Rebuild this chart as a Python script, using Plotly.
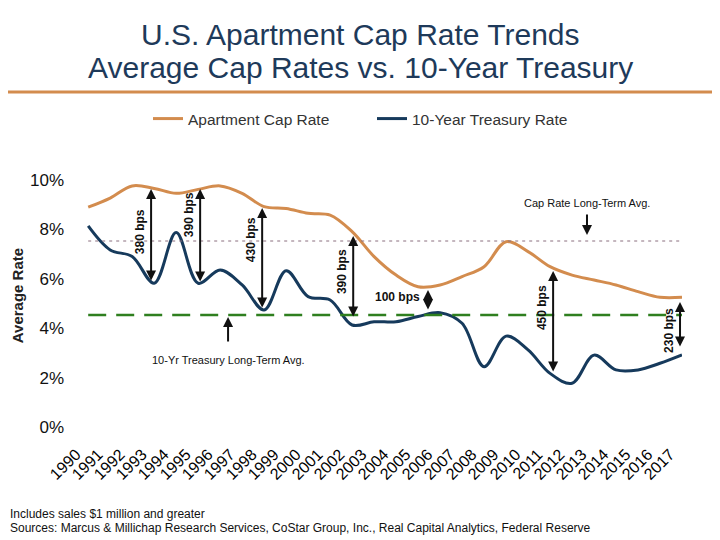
import plotly.graph_objects as go

years = list(range(1990, 2018))
cap_rate = [8.90, 9.27, 9.76, 9.66, 9.46, 9.62, 9.76, 9.46, 8.92, 8.85,
            8.65, 8.58, 7.91, 6.90, 6.15, 5.68, 5.75, 6.09, 6.49, 7.50,
            7.10, 6.49, 6.15, 5.95, 5.75, 5.48, 5.25, 5.25]
treasury = [8.14, 7.17, 6.90, 5.82, 7.87, 5.82, 6.36, 5.75, 4.74, 6.33,
            5.28, 5.14, 4.13, 4.26, 4.26, 4.47, 4.63, 4.20, 2.44, 3.68,
            3.12, 2.17, 1.77, 2.91, 2.31, 2.31, 2.58, 2.92]
cap_avg = 7.53
treasury_avg = 4.53

gap_x = [1992.86, 1995.09, 1997.91, 2002.05, 2005.45, 2011.14, 2016.91]
gap_top = [9.64, 9.64, 8.87, 7.73, 5.55, 6.32, 5.06]
gap_bottom = [5.87, 5.83, 4.78, 4.41, 4.70, 2.19, 3.20]
gap_labels = ["380 bps", "390 bps", "430 bps", "390 bps", "100 bps", "450 bps", "230 bps"]
gap_label_y = [7.89, 8.58, 7.57, 6.28, 5.26, 4.82, 3.89]

y_ticks = [0, 2, 4, 6, 8, 10]
y_ticktext = ["0%", "2%", "4%", "6%", "8%", "10%"]

ORANGE = "#D38C4E"
NAVY = "#163A5C"
GREEN = "#2F7F1F"
FONT = "Arial, Liberation Sans, sans-serif"

# The page body has an 8px margin, so the figure is drawn 8px in from the top-left.
OFF = 8
FIG_W, FIG_H = 720 - OFF, 540 - OFF
X0 = 1989.4          # axis starts a little before 1990 so the shifted 1990 label fits
YEAR_PX = 22.0       # 1990 sits at page x 88, 2017 at page x 682
PLOT_LEFT = 88 - (1990 - X0) * YEAR_PX
PLOT_RIGHT, PLOT_TOP, PLOT_BOTTOM = 682, 180, 427
L, R, T, B = PLOT_LEFT - OFF, 720 - PLOT_RIGHT, PLOT_TOP - OFF, 540 - PLOT_BOTTOM
PW, PH = PLOT_RIGHT - PLOT_LEFT, PLOT_BOTTOM - PLOT_TOP


def px(xp):
    return (xp - PLOT_LEFT) / PW


def py(yp):
    return (PLOT_BOTTOM - yp) / PH


fig = go.Figure()
fig.add_trace(go.Scatter(x=years, y=cap_rate, mode="lines", name="Apartment Cap Rate",
                         line=dict(color=ORANGE, width=3, shape="spline", smoothing=1.0)))
fig.add_trace(go.Scatter(x=years, y=treasury, mode="lines", name="10-Year Treasury Rate",
                         line=dict(color=NAVY, width=3, shape="spline", smoothing=1.0)))
fig.add_trace(go.Scatter(x=[years[0], years[-1]], y=[cap_avg, cap_avg], mode="lines",
                         showlegend=False, line=dict(color="#8A6E7E", width=1, dash="3px,4px")))
fig.add_trace(go.Scatter(x=[years[0], years[-1]], y=[treasury_avg, treasury_avg], mode="lines",
                         showlegend=False, line=dict(color=GREEN, width=2.5, dash="18px,10px")))

annotations = []
for gx, gt, gb, gl, gy in zip(gap_x, gap_top, gap_bottom, gap_labels, gap_label_y):
    annotations.append(dict(x=gx, y=gt, ax=gx, ay=gb, xref="x", yref="y", axref="x", ayref="y",
                            text="", showarrow=True, arrowhead=2, arrowside="end+start",
                            arrowsize=1, arrowwidth=2, arrowcolor="#111111"))
    if gl == "100 bps":
        annotations.append(dict(x=gx, y=gy, xref="x", yref="y", text="<b>" + gl + "</b>",
                                showarrow=False, xanchor="right", yanchor="middle", xshift=-6,
                                font=dict(family=FONT, size=12, color="#111111")))
    else:
        annotations.append(dict(x=gx, y=gy, xref="x", yref="y", text="<b>" + gl + "</b>",
                                showarrow=False, textangle=-90, xshift=-11,
                                xanchor="center", yanchor="middle",
                                font=dict(family=FONT, size=12, color="#111111")))

# long-term average labels with arrows
annotations.append(dict(x=2012.68, y=9.07, xref="x", yref="y", text="Cap Rate Long-Term Avg.",
                        showarrow=False, xanchor="center", yanchor="middle",
                        font=dict(family=FONT, size=11, color="#111111")))
annotations.append(dict(x=2012.68, y=7.77, ax=2012.68, ay=8.66, xref="x", yref="y", axref="x",
                        ayref="y", text="", showarrow=True, arrowhead=2, arrowsize=1,
                        arrowwidth=2, arrowcolor="#111111"))
annotations.append(dict(x=1996.36, y=2.71, xref="x", yref="y", text="10-Yr Treasury Long-Term Avg.",
                        showarrow=False, xanchor="center", yanchor="middle",
                        font=dict(family=FONT, size=11, color="#111111")))
annotations.append(dict(x=1996.36, y=4.45, ax=1996.36, ay=3.40, xref="x", yref="y", axref="x",
                        ayref="y", text="", showarrow=True, arrowhead=2, arrowsize=1,
                        arrowwidth=2, arrowcolor="#111111"))

# titles and notes (page pixel positions)
annotations.append(dict(x=px(360), y=py(35), xref="paper", yref="paper",
                        xanchor="center", yanchor="middle",
                        text="U.S. Apartment Cap Rate Trends", showarrow=False,
                        font=dict(family=FONT, size=30, color="#1E3A5A")))
annotations.append(dict(x=px(360), y=py(67), xref="paper", yref="paper",
                        xanchor="center", yanchor="middle",
                        text="Average Cap Rates vs. 10-Year Treasury", showarrow=False,
                        font=dict(family=FONT, size=30, color="#1E3A5A")))
annotations.append(dict(x=px(17), y=py(296), xref="paper", yref="paper", text="<b>Average Rate</b>",
                        textangle=-90, showarrow=False, xanchor="center", yanchor="middle",
                        font=dict(family=FONT, size=15, color="#222222")))
annotations.append(dict(x=px(8), y=py(514), xref="paper", yref="paper", xanchor="left",
                        yanchor="middle",
                        text="Includes sales $1 million and greater", showarrow=False,
                        font=dict(family=FONT, size=12, color="#111111")))
annotations.append(dict(x=px(8), y=py(528), xref="paper", yref="paper", xanchor="left",
                        yanchor="middle",
                        text="Sources: Marcus & Millichap Research Services, CoStar Group, Inc., Real Capital Analytics, Federal Reserve",
                        showarrow=False, font=dict(family=FONT, size=12, color="#111111")))

shapes = [dict(type="line", xref="paper", yref="paper", x0=px(0), x1=px(720), y0=py(92), y1=py(92),
               line=dict(color=ORANGE, width=3))]

fig.update_layout(
    width=FIG_W, height=FIG_H,
    margin=dict(l=L, r=R, t=T, b=B, autoexpand=False),
    paper_bgcolor="white", plot_bgcolor="white",
    showlegend=True,
    legend=dict(orientation="h", xref="container", yref="container",
                x=(148 - OFF) / FIG_W, y=1 - (119 - OFF) / FIG_H, xanchor="left", yanchor="middle",
                font=dict(family=FONT, size=15.5, color="#333333"), entrywidth=179,
                bgcolor="rgba(0,0,0,0)"),
    annotations=annotations,
    shapes=shapes,
    xaxis=dict(range=[X0, 2017], tickmode="array", tickvals=[y - 0.55 for y in years],
               ticktext=[str(y) for y in years], tickangle=-45, showgrid=False,
               zeroline=False, showline=False, ticks="", ticklabelstandoff=14,
               automargin=False,
               tickfont=dict(family=FONT, size=16, color="#000000")),
    yaxis=dict(range=[0, 10], tickvals=y_ticks, ticktext=y_ticktext, showgrid=False,
               zeroline=False, showline=False, ticks="",
               ticklabelstandoff=int(round(PLOT_LEFT - 65)),
               automargin=False,
               tickfont=dict(family=FONT, size=17, color="#111111")),
)

fig.write_html("out.html")
